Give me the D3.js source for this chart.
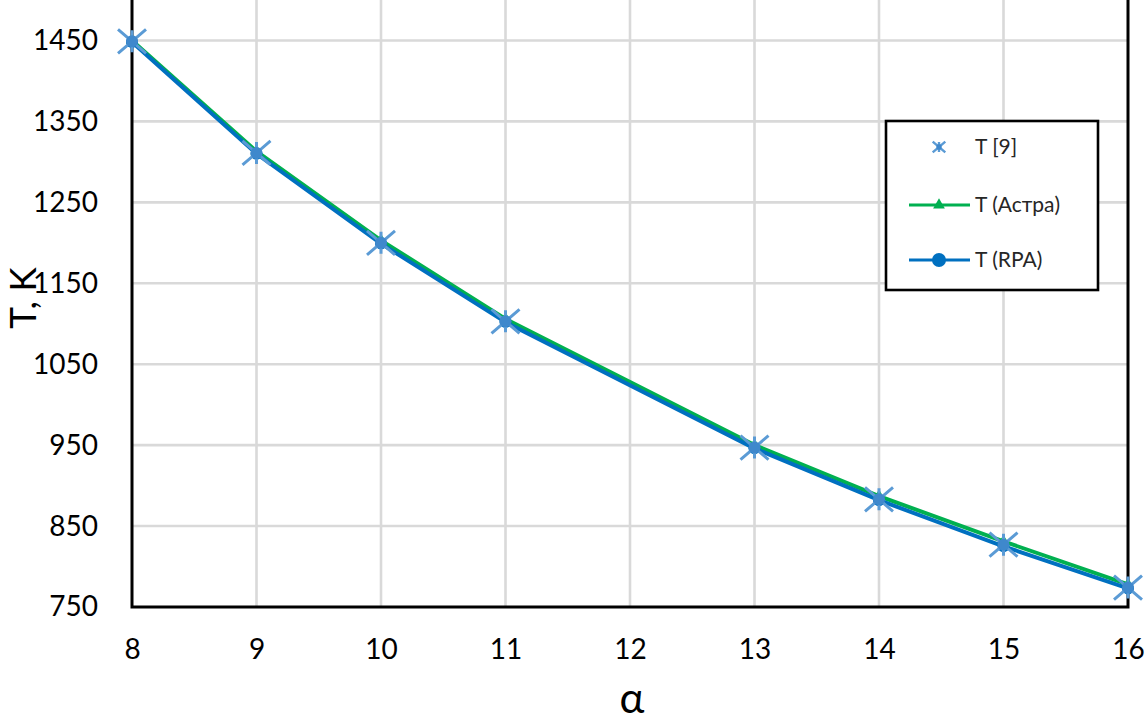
<!DOCTYPE html>
<html><head><meta charset="utf-8">
<script src="https://cdn.jsdelivr.net/npm/d3@7"></script>
<style>html,body{margin:0;padding:0;background:#fff;}svg{display:block;}</style>
</head><body>
<svg id="c" width="1146" height="721"></svg>
<script>
const alpha = [8, 9, 10, 11, 13, 14, 15, 16];
const T9    = [1449, 1311, 1200, 1103, 947, 883, 827, 774];
const Astra = [1450, 1313, 1203, 1106, 950, 887, 831, 778];
const RPA   = [1448, 1310, 1199, 1102, 946, 882, 825, 773];
const yTicks = [750, 850, 950, 1050, 1150, 1250, 1350, 1450];
const xTicks = [8, 9, 10, 11, 12, 13, 14, 15, 16];
const seriesNames = ["T [9]", "T (Астра)", "T (RPA)"];

const svg = d3.select("#c");
const L = 132, R = 1128, T = 0, B = 607;
const x = d3.scaleLinear().domain([8, 16]).range([L, R]);
const y = d3.scaleLinear().domain([750, 1500]).range([B, T]);
const font = "Lato, 'Liberation Sans', sans-serif";

svg.append("g").selectAll("line").data(yTicks.filter(d => d > 750)).join("line")
  .attr("x1", L).attr("x2", R).attr("y1", d => y(d)).attr("y2", d => y(d))
  .attr("stroke", "#d9d9d9").attr("stroke-width", 2.6);
svg.append("g").selectAll("line").data(xTicks.filter(d => d > 8 && d < 16)).join("line")
  .attr("x1", d => x(d)).attr("x2", d => x(d)).attr("y1", T).attr("y2", B)
  .attr("stroke", "#d9d9d9").attr("stroke-width", 2.6);

const yAxis = svg.append("g").attr("transform", `translate(${L},0)`)
  .call(d3.axisLeft(y).tickValues(yTicks).tickFormat(d3.format("d")).tickSize(0).tickPadding(34));
yAxis.select(".domain").remove();
yAxis.selectAll("text").attr("font-family", font).attr("font-size", 28).attr("fill", "#000");

const xAxis = svg.append("g").attr("transform", `translate(0,${B})`)
  .call(d3.axisBottom(x).tickValues(xTicks).tickFormat(d3.format("d")).tickSize(0).tickPadding(32));
xAxis.select(".domain").remove();
xAxis.selectAll("text").attr("font-family", font).attr("font-size", 28).attr("fill", "#000");

svg.append("path").attr("d", `M${L},${T}V${B}H${R}V${T}`)
  .attr("fill", "none").attr("stroke", "#000").attr("stroke-width", 3);

svg.append("text").attr("x", 632).attr("y", 713).attr("text-anchor", "middle")
  .attr("font-family", font).attr("font-size", 42).text("α");
svg.append("text").attr("transform", "translate(36,298) rotate(-90)").attr("text-anchor", "middle")
  .attr("font-family", font).attr("font-size", 37).text("T, K");

const line = vals => d3.line().x((d, i) => x(alpha[i])).y(d => y(d))(vals);
svg.append("path").attr("d", line(Astra)).attr("fill", "none").attr("stroke", "#00b050").attr("stroke-width", 4);
svg.append("path").attr("d", line(RPA)).attr("fill", "none").attr("stroke", "#0070c0").attr("stroke-width", 4);

const tri = d3.symbol().type(d3.symbolTriangle).size(60);
svg.append("g").selectAll("path").data(Astra).join("path")
  .attr("d", tri).attr("transform", (d, i) => `translate(${x(alpha[i])},${y(d)})`).attr("fill", "#00b050");
svg.append("g").selectAll("circle").data(RPA).join("circle")
  .attr("cx", (d, i) => x(alpha[i])).attr("cy", d => y(d)).attr("r", 6).attr("fill", "#0070c0");

function star(g, cx, cy, s) {
  const p = `M${cx - 14*s},${cy - 12*s}L${cx + 14*s},${cy + 12*s}M${cx + 14*s},${cy - 12*s}L${cx - 14*s},${cy + 12*s}M${cx},${cy - 11*s}L${cx},${cy + 11*s}`;
  g.append("path").attr("d", p).attr("stroke", "#5b9bd5").attr("stroke-width", 3*Math.max(s,0.8)).attr("fill", "none");
  g.append("circle").attr("cx", cx).attr("cy", cy).attr("r", 6*s).attr("fill", "#3f88cc");
}
const sg = svg.append("g");
T9.forEach((d, i) => star(sg, x(alpha[i]), y(d), 1));

const lg = svg.append("g");
lg.append("rect").attr("x", 886).attr("y", 121).attr("width", 212).attr("height", 169)
  .attr("fill", "#fff").attr("stroke", "#000").attr("stroke-width", 2.6);
const ly = [147, 205, 260];
star(lg, 939, ly[0], 0.45);
lg.append("line").attr("x1", 909).attr("x2", 970).attr("y1", ly[1]).attr("y2", ly[1]).attr("stroke", "#00b050").attr("stroke-width", 3);
lg.append("path").attr("d", tri).attr("transform", `translate(939,${ly[1]})`).attr("fill", "#00b050");
lg.append("line").attr("x1", 909).attr("x2", 970).attr("y1", ly[2]).attr("y2", ly[2]).attr("stroke", "#0070c0").attr("stroke-width", 3);
lg.append("circle").attr("cx", 939).attr("cy", ly[2]).attr("r", 7).attr("fill", "#0070c0");
lg.selectAll("text.l").data(seriesNames).join("text").attr("class", "l")
  .attr("x", 975).attr("y", (d, i) => ly[i]).attr("dy", "0.35em")
  .attr("font-family", font).attr("font-size", 21).attr("fill", "#262626").text(d => d);
</script>
</body></html>
